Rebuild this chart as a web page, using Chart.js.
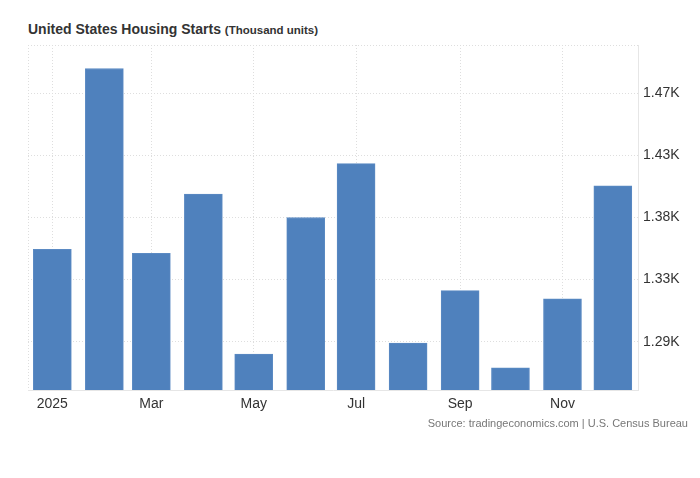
<!DOCTYPE html>
<html>
<head>
<meta charset="utf-8">
<script src="https://cdn.jsdelivr.net/npm/chart.js@4"></script>
<style>
  html, body { margin: 0; padding: 0; background: #fff; }
  body { width: 700px; height: 478px; position: relative; overflow: hidden;
         font-family: Helvetica, Arial, "Liberation Sans", sans-serif; }
  #titulo { position: absolute; left: 28px; top: 21px; font-size: 14px; font-weight: bold; color: #333; white-space: nowrap; }
  #titulo span { font-size: 11.5px; }
  #fuente { position: absolute; right: 12px; top: 417px; font-size: 11px; color: #777; white-space: nowrap; }
  #lienzo { position: absolute; left: 0; top: 0; }
</style>
</head>
<body>
<div id="titulo">United States Housing Starts <span>(Thousand units)</span></div>
<canvas id="lienzo" width="700" height="478"></canvas>
<div id="fuente">Source: tradingeconomics.com | U.S. Census Bureau</div>
<script>
// Meses de la serie (2025)
const meses = ["2025-01", "2025-02", "2025-03", "2025-04", "2025-05", "2025-06",
               "2025-07", "2025-08", "2025-09", "2025-10", "2025-11", "2025-12"];
// Inicios de vivienda, miles de unidades
const valores = [1357, 1488, 1354, 1397, 1281, 1380, 1419, 1289, 1327, 1271, 1321, 1403];
// Etiquetas del eje x (meses impares)
const mesesEtiqueta = ["2025-01", "2025-03", "2025-05", "2025-07", "2025-09", "2025-11"];
const etiquetasX = ["2025", "Mar", "May", "Jul", "Sep", "Nov"];
// Marcas del eje y
const marcasY = [1290, 1335, 1380, 1425, 1470];

// días desde el 1 de enero
const dia = (m) => {
  const [a, mm] = m.split("-").map(Number);
  return (Date.UTC(a, mm - 1, 1) - Date.UTC(2025, 0, 1)) / 86400000;
};

const puntos = meses.map((m, i) => ({ x: dia(m), y: valores[i] }));
const marcasX = mesesEtiqueta.map(dia);
const X_MIN = -14.5, X_MAX = 349;
const Y_MIN = 1255, Y_MAX = 1505;

const fuente = { family: "Helvetica, Arial, 'Liberation Sans', sans-serif", size: 14 };

const ctx = document.getElementById("lienzo").getContext("2d");
new Chart(ctx, {
  type: "bar",
  data: {
    datasets: [{
      data: puntos,
      backgroundColor: "#4F81BD",
      borderColor: "#5B8AC3",
      borderWidth: 1,
      barThickness: 38
    }]
  },
  options: {
    responsive: false,
    animation: false,
    layout: { padding: { left: 28, top: 45, right: 0, bottom: 0 } },
    plugins: { legend: { display: false }, tooltip: { enabled: false } },
    scales: {
      x: {
        type: "linear",
        min: X_MIN,
        max: X_MAX,
        offset: false,
        afterBuildTicks: (s) => { s.ticks = [X_MIN, ...marcasX].map(v => ({ value: v })); },
        afterFit: (s) => { s.height = 88; },
        ticks: {
          autoSkip: false,
          maxRotation: 0,
          padding: 6,
          color: "#333",
          font: fuente,
          callback: (v) => {
            const i = marcasX.indexOf(v);
            return i >= 0 ? etiquetasX[i] : "";
          }
        },
        grid: { offset: false, drawTicks: false, color: "#dedede", lineWidth: 1 },
        border: { display: true, color: "#e6e6e6", dash: [1, 2] }
      },
      y: {
        position: "right",
        min: Y_MIN,
        max: Y_MAX,
        afterBuildTicks: (s) => { s.ticks = [...marcasY, Y_MAX].map(v => ({ value: v })); },
        afterFit: (s) => { s.width = 62; },
        ticks: {
          padding: 5,
          color: "#333",
          font: fuente,
          callback: (v) => v === Y_MAX ? "" : (v / 1000).toFixed(2) + "K"
        },
        grid: { drawTicks: false, color: "#dedede", lineWidth: 1 },
        border: { display: true, color: "#e6e6e6", dash: [1, 2] }
      }
    }
  }
});
</script>
</body>
</html>
